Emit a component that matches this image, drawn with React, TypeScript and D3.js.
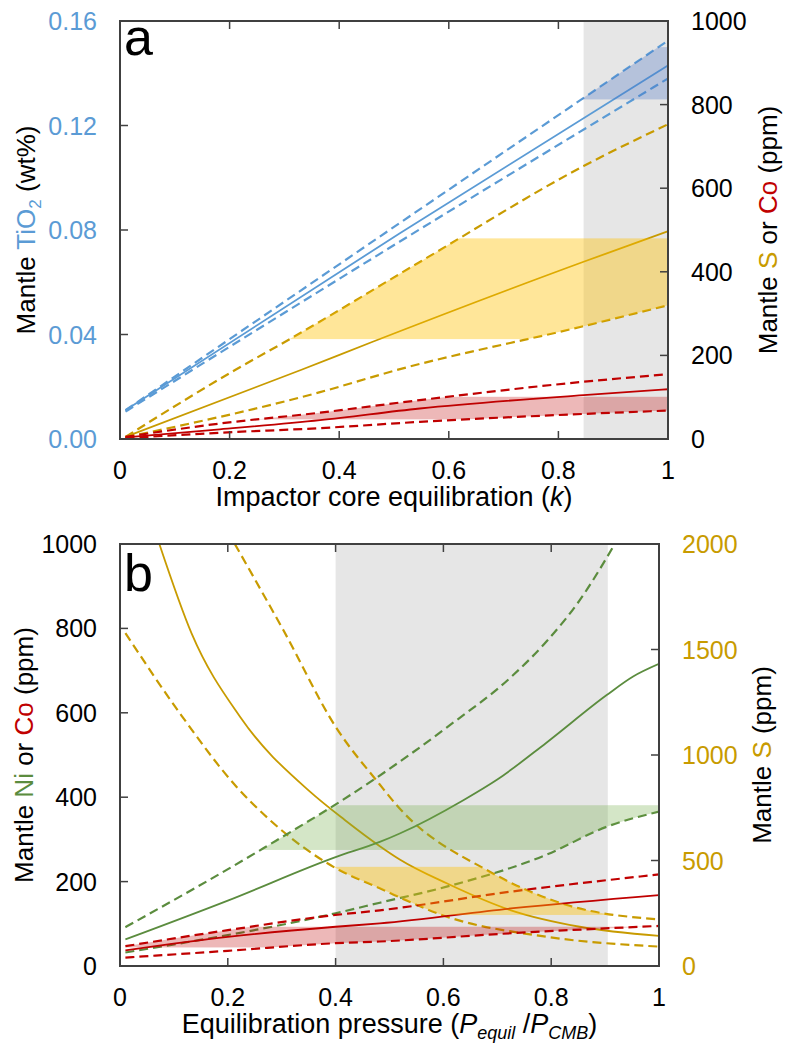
import React from 'react';
import * as d3 from 'd3';

type Pt = [number, number];

const BLUE = '#5B9BD5';
const GOLD = '#C89B00';
const RED = '#C00000';
const GREEN = '#5B8C3E';
const FONT = '"Liberation Sans", Arial, sans-serif';

// ---- panel a: impactor core equilibration (k) ----
const kTicks = [0, 0.2, 0.4, 0.6, 0.8, 1];
const tio2Ticks = [0, 0.04, 0.08, 0.12, 0.16];
const ppmTicksA = [0, 200, 400, 600, 800, 1000];

const tio2Solid: Pt[] = [[0.01, 0.011], [0.51, 0.0787], [1, 0.143]];
const tio2Upper: Pt[] = [[0.01, 0.011], [0.51, 0.0826], [1, 0.1525]];
const tio2Lower: Pt[] = [[0.01, 0.0105], [0.51, 0.0755], [1, 0.138]];

const sSolidA: Pt[] = [[0.01, 5], [0.33, 165], [0.46, 232], [0.846, 424], [1, 497]];
const sUpperA: Pt[] = [[0.01, 5], [0.21, 165], [0.31, 239], [0.553, 428], [0.846, 653], [1, 753]];
const sLowerA: Pt[] = [[0.01, 4], [0.365, 112], [0.505, 165], [0.846, 270], [1, 320]];

const coSolidA: Pt[] = [[0.01, 4], [0.182, 23], [0.365, 45], [0.547, 73], [0.846, 105], [1, 119]];
const coUpperA: Pt[] = [[0.01, 5], [0.182, 37], [0.365, 63], [0.547, 93], [0.846, 137], [1, 155]];
const coLowerA: Pt[] = [[0.01, 2], [0.182, 15], [0.365, 26], [0.547, 41], [0.846, 60], [1, 68]];

const grayA: [number, number] = [0.846, 1];
const tio2Band: [number, number] = [0.13, 0.15];
const sBandA: [number, number] = [239, 480];
const coBandA: [number, number] = [47, 101];

// ---- panel b: equilibration pressure ----
const pTicks = [0, 0.2, 0.4, 0.6, 0.8, 1];
const niCoTicks = [0, 200, 400, 600, 800, 1000];
const sTicksB = [0, 500, 1000, 1500, 2000];

const sSolidB: Pt[] = [[0.073, 2000], [0.133, 1575], [0.223, 1180], [0.353, 825], [0.417, 692], [0.482, 568], [0.519, 505], [0.606, 392], [0.724, 265], [0.853, 186], [1, 143]];
const sUpperB: Pt[] = [[0.213, 2000], [0.303, 1592], [0.4, 1134], [0.482, 860], [0.513, 763], [0.686, 447], [0.829, 289], [1, 221]];
const sLowerB: Pt[] = [[0.01, 1578], [0.111, 1198], [0.216, 850], [0.278, 692], [0.396, 470], [0.482, 368], [0.606, 234], [0.79, 139], [1, 92]];

const niSolid: Pt[] = [[0.01, 63], [0.2, 155], [0.4, 258], [0.482, 294], [0.519, 314], [0.637, 393], [0.7, 442], [0.79, 528], [0.903, 642], [0.952, 686], [1, 716]];
const niUpper: Pt[] = [[0.01, 92], [0.266, 279], [0.47, 441], [0.606, 565], [0.73, 690], [0.792, 770], [0.853, 867], [0.918, 1000]];
const niLower: Pt[] = [[0.01, 32], [0.4, 125], [0.482, 150], [0.606, 188], [0.79, 263], [0.903, 330], [1, 366]];

const coSolidB: Pt[] = [[0.01, 37], [0.2, 69], [0.4, 93], [0.482, 101], [0.73, 137], [1, 168]];
const coUpperB: Pt[] = [[0.01, 47], [0.2, 85], [0.4, 121], [0.482, 132], [0.73, 177], [1, 217]];
const coLowerB: Pt[] = [[0.01, 20], [0.2, 36], [0.4, 54], [0.482, 58], [0.73, 78], [1, 95]];

const grayB: [number, number] = [0.4, 0.905];
const niBand: [number, number] = [275, 381];
const sBandB: [number, number] = [242, 470];
const coBandB: [number, number] = [44, 93];

type Series = { pts: Pt[]; axis: 'L' | 'R'; color: string; dashed?: boolean };
type Shade = { upper: Pt[]; lower?: Pt[]; axis: 'L' | 'R'; band: [number, number]; color: string; opacity: number };

function Panel(props: any) {
  const { id, x0, x1, y0, y1, leftDomain, rightDomain, xTicks, leftTicks, rightTicks,
    leftFmt, rightFmt, leftColor, rightColor, series, shades, gray, letter, letterDy,
    leftTitle, rightTitle, rightTitleX, leftTitleX, xTitle } = props;
  const x = d3.scaleLinear().domain([0, 1]).range([x0, x1]);
  const yL = d3.scaleLinear().domain(leftDomain).range([y1, y0]);
  const yR = d3.scaleLinear().domain(rightDomain).range([y1, y0]);
  const ys = (a: string) => (a === 'L' ? yL : yR);
  const lineGen = (pts: Pt[], s: any) =>
    d3.line<Pt>().x(d => x(d[0])).y(d => s(d[1])).curve(d3.curveMonotoneX)(pts) || '';
  const areaGen = (pts: Pt[], s: any, base: number) =>
    d3.area<Pt>().x(d => x(d[0])).y0(base).y1(d => s(d[1])).curve(d3.curveMonotoneX)(pts) || '';
  const tickLen = 8;
  const midY = (y0 + y1) / 2;

  // region under an upper bound; where the curve has left through the top, everything counts
  const underClip = (pts: Pt[], s: any) => {
    const top = s.domain()[1];
    const first = pts[0];
    const last = pts[pts.length - 1];
    return (
      <>
        <path d={areaGen(pts, s, y1)} />
        {first[1] >= top && <rect x={x0} y={y0} width={x(first[0]) - x0} height={y1 - y0} />}
        {last[1] >= top && <rect x={x(last[0])} y={y0} width={x1 - x(last[0])} height={y1 - y0} />}
      </>
    );
  };

  return (
    <g>
      <defs>
        <clipPath id={`${id}-plot`}>
          <rect x={x0} y={y0} width={x1 - x0} height={y1 - y0} />
        </clipPath>
        {shades.map((sh: Shade, i: number) => (
          <React.Fragment key={i}>
            <clipPath id={`${id}-up${i}`}>{underClip(sh.upper, ys(sh.axis))}</clipPath>
            {sh.lower && (
              <clipPath id={`${id}-lo${i}`}>
                <path d={areaGen(sh.lower, ys(sh.axis), y0)} />
              </clipPath>
            )}
          </React.Fragment>
        ))}
      </defs>

      <rect x={x(gray[0])} y={y0} width={x(gray[1]) - x(gray[0])} height={y1 - y0} fill="#E6E6E6" />

      <g clipPath={`url(#${id}-plot)`}>
        {series.map((s: Series, i: number) => (
          <path key={i} d={lineGen(s.pts, ys(s.axis))} fill="none" stroke={s.color}
            strokeWidth={s.dashed ? 2.2 : 1.8} strokeDasharray={s.dashed ? '9,5' : undefined} />
        ))}
        {shades.map((sh: Shade, i: number) => {
          const s = ys(sh.axis);
          const rect = (
            <rect x={x0} width={x1 - x0} y={s(sh.band[1])} height={s(sh.band[0]) - s(sh.band[1])}
              fill={sh.color} fillOpacity={sh.opacity} />
          );
          return (
            <g key={i} clipPath={`url(#${id}-up${i})`}>
              {sh.lower ? <g clipPath={`url(#${id}-lo${i})`}>{rect}</g> : rect}
            </g>
          );
        })}
      </g>

      <rect x={x0} y={y0} width={x1 - x0} height={y1 - y0} fill="none" stroke="#404040" strokeWidth={2} />

      {xTicks.map((t: number) => (
        <g key={'x' + t}>
          <line x1={x(t)} x2={x(t)} y1={y1} y2={y1 - tickLen} stroke="#404040" strokeWidth={1.5} />
          <line x1={x(t)} x2={x(t)} y1={y0} y2={y0 + tickLen} stroke="#404040" strokeWidth={1.5} />
          <text x={x(t)} y={y1 + 40} textAnchor="middle" fontSize={25} fill="#000">{String(t)}</text>
        </g>
      ))}
      {leftTicks.map((t: number) => (
        <g key={'l' + t}>
          <line x1={x0} x2={x0 + tickLen} y1={yL(t)} y2={yL(t)} stroke="#404040" strokeWidth={1.5} />
          <text x={97} y={yL(t) + 9} textAnchor="end" fontSize={25} fill={leftColor}>{leftFmt(t)}</text>
        </g>
      ))}
      {rightTicks.map((t: number) => (
        <g key={'r' + t}>
          <line x1={x1} x2={x1 - tickLen} y1={yR(t)} y2={yR(t)} stroke="#404040" strokeWidth={1.5} />
          <text x={x1 + 23} y={yR(t) + 9} textAnchor="start" fontSize={25} fill={rightColor}>{rightFmt(t)}</text>
        </g>
      ))}

      <text x={x0 + 4} y={y0 + letterDy} fontSize={52} fill="#000">{letter}</text>

      <text transform={`translate(${leftTitleX},${midY}) rotate(-90)`} textAnchor="middle" fontSize={26} fill="#000">
        {leftTitle}
      </text>
      <text transform={`translate(${rightTitleX},${midY}) rotate(-90)`} textAnchor="middle" fontSize={26} fill="#000">
        {rightTitle}
      </text>
      <text x={(x0 + x1) / 2} y={y1 + 67} textAnchor="middle" fontSize={27} fill="#000">
        {xTitle}
      </text>
    </g>
  );
}

export default function App() {
  const f2 = d3.format('.2f');
  const plain = (v: number) => String(v);
  return (
    <svg width={787} height={1043} style={{ position: 'absolute', left: 0, top: 0, fontFamily: FONT, background: '#fff' }}>
      <Panel
        id="pa" x0={120} x1={668} y0={21} y1={439}
        leftDomain={[0, 0.16]} rightDomain={[0, 1000]}
        xTicks={kTicks} leftTicks={tio2Ticks} rightTicks={ppmTicksA}
        leftFmt={f2} rightFmt={plain} leftColor={BLUE} rightColor="#000"
        gray={grayA} letter="a" letterDy={34}
        series={[
          { pts: tio2Upper, axis: 'L', color: BLUE, dashed: true },
          { pts: tio2Lower, axis: 'L', color: BLUE, dashed: true },
          { pts: tio2Solid, axis: 'L', color: BLUE },
          { pts: sUpperA, axis: 'R', color: GOLD, dashed: true },
          { pts: sLowerA, axis: 'R', color: GOLD, dashed: true },
          { pts: sSolidA, axis: 'R', color: GOLD },
          { pts: coUpperA, axis: 'R', color: RED, dashed: true },
          { pts: coLowerA, axis: 'R', color: RED, dashed: true },
          { pts: coSolidA, axis: 'R', color: RED },
        ]}
        shades={[
          { upper: tio2Upper, axis: 'L', band: tio2Band, color: '#4472C4', opacity: 0.3 },
          { upper: sUpperA, lower: sLowerA, axis: 'R', band: sBandA, color: '#FFC000', opacity: 0.4 },
          { upper: coUpperA, lower: coLowerA, axis: 'R', band: coBandA, color: RED, opacity: 0.28 },
        ]}
        leftTitleX={35} rightTitleX={777}
        leftTitle={<>Mantle <tspan fill={BLUE}>TiO</tspan><tspan fill={BLUE} fontSize={17} dy={6}>2</tspan><tspan dy={-6}> (wt%)</tspan></>}
        rightTitle={<>Mantle <tspan fill={GOLD}>S</tspan> or <tspan fill={RED}>Co</tspan> (ppm)</>}
        xTitle={<>Impactor core equilibration (<tspan fontStyle="italic">k</tspan>)</>}
      />
      <Panel
        id="pb" x0={120} x1={659} y0={544} y1={966}
        leftDomain={[0, 1000]} rightDomain={[0, 2000]}
        xTicks={pTicks} leftTicks={niCoTicks} rightTicks={sTicksB}
        leftFmt={plain} rightFmt={plain} leftColor="#000" rightColor={GOLD}
        gray={grayB} letter="b" letterDy={47}
        series={[
          { pts: sUpperB, axis: 'R', color: GOLD, dashed: true },
          { pts: sLowerB, axis: 'R', color: GOLD, dashed: true },
          { pts: sSolidB, axis: 'R', color: GOLD },
          { pts: niUpper, axis: 'L', color: GREEN, dashed: true },
          { pts: niLower, axis: 'L', color: GREEN, dashed: true },
          { pts: niSolid, axis: 'L', color: GREEN },
          { pts: coUpperB, axis: 'L', color: RED, dashed: true },
          { pts: coLowerB, axis: 'L', color: RED, dashed: true },
          { pts: coSolidB, axis: 'L', color: RED },
        ]}
        shades={[
          { upper: niUpper, lower: niLower, axis: 'L', band: niBand, color: '#70AD47', opacity: 0.3 },
          { upper: sUpperB, lower: sLowerB, axis: 'R', band: sBandB, color: '#FFC000', opacity: 0.4 },
          { upper: coUpperB, lower: coLowerB, axis: 'L', band: coBandB, color: RED, opacity: 0.28 },
        ]}
        leftTitleX={33} rightTitleX={771}
        leftTitle={<>Mantle <tspan fill={GREEN}>Ni</tspan> or <tspan fill={RED}>Co</tspan> (ppm)</>}
        rightTitle={<>Mantle <tspan fill={GOLD}>S</tspan> (ppm)</>}
        xTitle={<>Equilibration pressure (<tspan fontStyle="italic">P</tspan><tspan fontStyle="italic" fontSize={18} dy={6}>equil</tspan><tspan dy={-6}> /</tspan><tspan fontStyle="italic">P</tspan><tspan fontStyle="italic" fontSize={18} dy={6}>CMB</tspan><tspan dy={-6}>)</tspan></>}
      />
    </svg>
  );
}
